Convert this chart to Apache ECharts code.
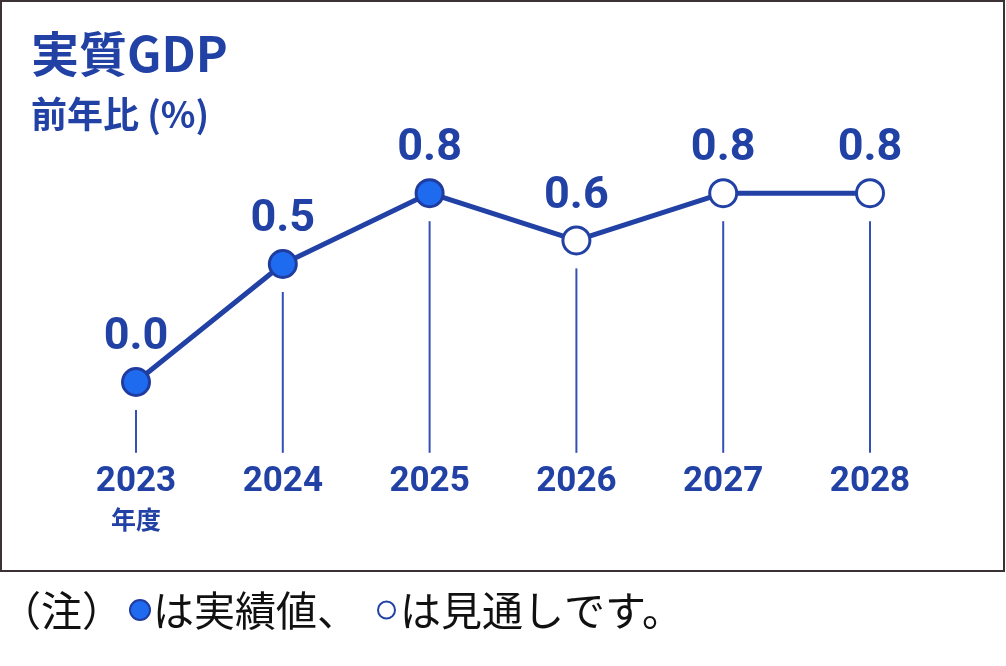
<!DOCTYPE html>
<html>
<head>
<meta charset="utf-8">
<script src="https://cdn.jsdelivr.net/npm/echarts@6/dist/echarts.min.js"></script>
<style>
  html, body { margin: 0; padding: 0; background: #fff; }
  #main { width: 1006px; height: 666px; }
</style>
</head>
<body>
<div id="main"></div>
<script>
// 年度
const years = ['2023', '2024', '2025', '2026', '2027', '2028'];
// 実質GDP 前年比 (%)
const gdpValues = [0.0, 0.5, 0.8, 0.6, 0.8, 0.8];
// 実績値 = true, 見通し = false
const isActual = [true, true, true, false, false, false];

const BLUE = '#2241A5';
const FILL = '#1E6BF0';
const Y_MIN = -0.3;

const myChart = echarts.init(document.getElementById('main'));

const points = gdpValues.map((v, i) => ({
    value: v,
    itemStyle: isActual[i]
        ? { color: FILL, borderColor: '#1F3C9E', borderWidth: 3 }
        : { color: '#fff', borderColor: BLUE, borderWidth: 3 }
}));

const option = {
    animation: false,
    graphic: [
        {
            // 枠線
            type: 'rect',
            shape: { x: 1, y: 1, width: 1003, height: 570 },
            style: { fill: null, stroke: '#3b3333', lineWidth: 2 }
        }
    ],
    title: [
        {
            text: '実質GDP',
            left: 31,
            top: 25,
            padding: 0,
            textStyle: {
                fontFamily: 'Noto Sans CJK JP',
                fontSize: 48,
                lineHeight: 58,
                fontWeight: 'bold',
                color: BLUE
            }
        },
        {
            text: '前年比 (%)',
            left: 31,
            top: 93,
            padding: 0,
            textStyle: {
                fontFamily: 'Noto Sans CJK JP',
                fontSize: 36,
                lineHeight: 42,
                fontWeight: 'bold',
                color: BLUE
            }
        },
        {
            // 注記
            text: '（注）{g1|}{f|}{g2|}は実績値、{g3|}{o|}{g4|}は見通しです。',
            left: 0,
            top: 586,
            padding: 0,
            textStyle: {
                fontFamily: 'Noto Sans CJK JP',
                fontSize: 41,
                lineHeight: 48,
                fontWeight: 'normal',
                color: '#111',
                rich: {
                    g1: { width: 8 },
                    g2: { width: 4 },
                    g3: { width: 21 },
                    g4: { width: 6 },
                    f: {
                        width: 18, height: 18, borderRadius: 11,
                        backgroundColor: FILL, borderColor: '#1F3C9E', borderWidth: 2
                    },
                    o: {
                        width: 15, height: 15, borderRadius: 9,
                        backgroundColor: '#fff', borderColor: BLUE, borderWidth: 2
                    }
                }
            }
        }
    ],
    grid: {
        left: 62.6,
        width: 880.8,
        top: 98.8,
        height: 354
    },
    xAxis: {
        type: 'category',
        data: years,
        boundaryGap: true,
        axisLine: { show: false },
        axisTick: { show: false },
        axisLabel: {
            interval: 0,
            margin: 10,
            fontFamily: 'Roboto',
            fontSize: 35,
            lineHeight: 38,
            fontWeight: 'bold',
            color: BLUE,
            formatter: (v, i) => i === 0 ? v + '\n{u|年度}' : v,
            rich: {
                u: {
                    fontFamily: 'Noto Sans CJK JP',
                    fontSize: 25,
                    lineHeight: 38,
                    fontWeight: 'bold',
                    color: BLUE
                }
            }
        }
    },
    yAxis: {
        type: 'value',
        min: Y_MIN,
        max: 1.2,
        show: false,
        splitLine: { show: false }
    },
    series: [
        {
            // 点から下への縦線
            type: 'custom',
            silent: true,
            z: 1,
            data: gdpValues.map((v, i) => [i, v]),
            renderItem: (params, api) => {
                const p = api.coord([api.value(0), api.value(1)]);
                const base = api.coord([api.value(0), Y_MIN]);
                return {
                    type: 'line',
                    shape: { x1: p[0], y1: p[1] + 28, x2: p[0], y2: base[1] },
                    style: { stroke: '#3550B4', lineWidth: 2 }
                };
            }
        },
        {
            name: '実質GDP',
            type: 'line',
            z: 3,
            data: points,
            symbol: 'circle',
            symbolSize: 27,
            lineStyle: { color: BLUE, width: 5 },
            label: {
                show: true,
                position: 'top',
                distance: 6,
                fontFamily: 'Roboto',
                fontSize: 45,
                lineHeight: 46,
                fontWeight: 'bold',
                color: BLUE,
                formatter: (p) => p.value.toFixed(1)
            }
        }
    ]
};

myChart.setOption(option);
</script>
</body>
</html>
